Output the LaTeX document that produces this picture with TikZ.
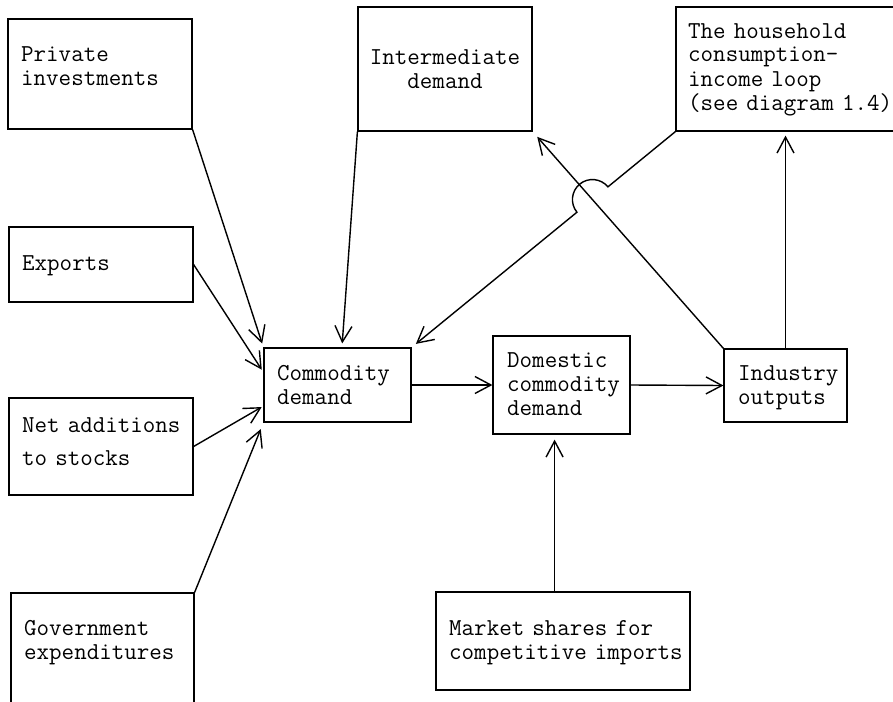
\documentclass[tikz,border=0pt]{standalone}
\usetikzlibrary{arrows.meta,calc}
\tikzset{
  box/.style={draw, line width=1.2pt, rectangle, inner sep=0pt},
  txt/.style={font=\fontsize{24.3}{24}\selectfont\ttfamily, anchor=base west,
              inner sep=0pt, align=left, text width=#1},
  flow/.style={line width=1.4pt, -{Straight Barb[length=16pt,width=17pt]}},
}
\begin{document}
\begin{tikzpicture}[x=1pt,y=1pt]
\clip (0,0) rectangle (893,-701);

% boxes
\node[box, minimum width=184pt, minimum height=110pt] (pi) at (100,-74) {};
\node[box, minimum width=174pt, minimum height=124pt] (im) at (445,-69) {};
\node[box, minimum width=234pt, minimum height=124pt] (hh) at (793,-69) {};
\node[box, minimum width=184pt, minimum height=75pt]  (ex) at (101,-264.5) {};
\node[box, minimum width=184pt, minimum height=97pt]  (na) at (101,-446.5) {};
\node[box, minimum width=183pt, minimum height=127pt] (ge) at (102.5,-656.5) {};
\node[box, minimum width=147pt, minimum height=74pt]  (cd) at (337.5,-385) {};
\node[box, minimum width=137pt, minimum height=98pt]  (dd) at (561.5,-385) {};
\node[box, minimum width=123pt, minimum height=73pt]  (io) at (785.5,-385.5) {};
\node[box, minimum width=254pt, minimum height=98pt]  (ms) at (563,-641) {};

% box texts
\node[txt=175pt] (pi-t) at (21,-62) {Private\\investments};
\node[txt=175pt, align=center, anchor=base] (im-t) at (445,-64) {Intermediate\\demand};
\node[txt=215pt] (hh-t) at (688,-38) {The household\\consumption-\\income loop\\(see diagram 1.4)};
\node[txt=175pt] (ex-t) at (22,-270) {Exports};
\node[txt=175pt, font=\fontsize{24.3}{33}\selectfont\ttfamily] (na-t) at (22,-432) {Net additions\\to stocks};
\node[txt=175pt] (ge-t) at (24,-635) {Government\\expenditures};
\node[txt=135pt] (cd-t) at (277,-380) {Commodity\\demand};
\node[txt=125pt] (dd-t) at (507,-367) {Domestic\\commodity\\demand};
\node[txt=115pt] (io-t) at (738,-380) {Industry\\outputs};
\node[txt=245pt] (ms-t) at (449,-635) {Market shares for\\competitive imports};

% final-demand inputs into commodity demand
\draw[flow, shorten >=4pt] (pi.south east) -- (cd.north west);
\draw[flow, shorten >=3pt] (ex.east) -- ($(cd.north west)!0.33!(cd.south west)$);
\draw[flow, shorten >=2pt] (na.east) -- ($(cd.north west)!0.78!(cd.south west)$);
\draw[flow, shorten >=7pt] (ge.north east) -- (cd.south west);
\draw[flow, shorten >=4pt] (im.south west) -- ($(cd.north west)!0.53!(cd.north east)$);

% household loop, jumping over the industry-to-intermediate link
\coordinate (h1) at (hh.south west);
\coordinate (c1) at (cd.north east);
\coordinate (i1) at (io.north west);
\coordinate (m1) at (im.south east);
\coordinate (X) at (intersection of h1--c1 and i1--m1);
\draw[flow, shorten >=5.5pt]
  let \p1=($(h1)-(X)$), \n1={atan2(\y1,\x1)} in
  (h1) -- ($(X)!20pt!(h1)$) arc[start angle=\n1, delta angle=180, radius=20pt] -- (c1);

% industry outputs feed back
\draw[flow, shorten >=7pt] (i1) -- (m1);
\draw[flow, shorten >=4pt] (io.north) -- (io.north |- hh.south);

% main chain
\draw[flow] (cd.east) -- (dd.west);
\draw[flow] (dd.east) -- (io.west);
\coordinate (m) at ($(dd.south west)!0.45!(dd.south east)$);
\draw[flow, shorten >=5pt] (m |- ms.north) -- (m);
\end{tikzpicture}
\end{document}
